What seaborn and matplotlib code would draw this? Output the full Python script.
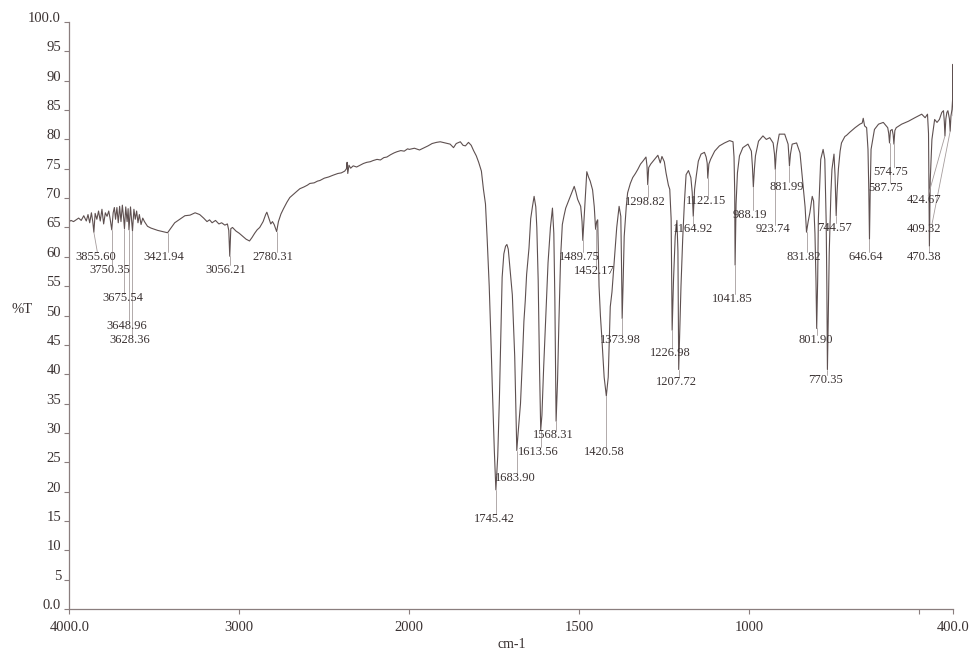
import numpy as np
import pandas as pd
import matplotlib
matplotlib.use('Agg')
import matplotlib.pyplot as plt
import seaborn as sns

# IR spectrum (cm-1, %T)
wavenumber = [
    4000, 3990, 3975, 3960, 3945, 3930, 3915, 3900, 3890, 3880, 3870, 3862,
    3855.60, 3848, 3838, 3828, 3818, 3808, 3798, 3788, 3778, 3768, 3760,
    3750.35, 3742, 3735, 3728, 3720, 3712, 3704, 3696, 3688, 3680, 3675.54,
    3668, 3660, 3654, 3648.96, 3640, 3634, 3628.36, 3620, 3612, 3604, 3596,
    3588, 3578, 3568, 3558, 3540, 3520, 3500, 3480, 3450, 3421.94, 3400,
    3380, 3350, 3320, 3290, 3260, 3233, 3210, 3190, 3175, 3160, 3140, 3120,
    3104, 3085, 3070, 3062, 3056.21, 3050, 3040, 3020, 3000, 2980, 2960,
    2940, 2925, 2910, 2895, 2880, 2860, 2845, 2838, 2825, 2815, 2805, 2795,
    2780.31, 2770, 2755, 2740, 2720, 2703, 2680, 2660, 2644, 2620, 2600,
    2585, 2560, 2540, 2526, 2500, 2475, 2449, 2420, 2400, 2380, 2370, 2366,
    2362, 2355, 2345, 2330, 2310, 2290, 2270, 2250, 2230, 2213, 2190, 2170,
    2150, 2132, 2110, 2090, 2073, 2050, 2030, 2010, 2000, 1985, 1970, 1959,
    1945, 1933, 1920, 1909, 1895, 1880, 1870, 1862, 1850, 1842, 1835, 1826,
    1818, 1811, 1803, 1796, 1788, 1782, 1776, 1771, 1765, 1760, 1756, 1750,
    1745.42, 1740, 1735, 1730, 1727, 1722, 1717, 1713, 1709, 1704, 1697,
    1690, 1686, 1683.90, 1680, 1673, 1667, 1663, 1659, 1655, 1648, 1643,
    1638, 1633, 1628, 1625, 1621, 1617, 1613.56, 1610, 1605, 1599, 1592,
    1585, 1579, 1575, 1572, 1568.31, 1564, 1560, 1555, 1550, 1545, 1540,
    1530, 1522, 1515, 1510, 1505, 1496, 1492, 1489.75, 1486, 1483, 1478,
    1473, 1468, 1461, 1456, 1452.17, 1449, 1446, 1442, 1438, 1434, 1427,
    1420.58, 1415, 1409, 1404, 1397, 1390, 1383, 1378, 1376, 1373.98, 1371,
    1368, 1362, 1358, 1350, 1343, 1335, 1328, 1320, 1313, 1304, 1301,
    1298.82, 1296, 1290, 1279, 1269, 1262, 1257, 1250, 1245, 1238, 1234,
    1230, 1226.98, 1223, 1218, 1213, 1210, 1207.72, 1204, 1201, 1196, 1191,
    1186, 1179, 1172, 1168, 1164.92, 1161, 1156, 1150, 1142, 1132, 1127,
    1124, 1122.15, 1119, 1114, 1102, 1088, 1073, 1058, 1048, 1045, 1043,
    1041.85, 1039, 1035, 1029, 1019, 1004, 994, 991, 988.19, 985, 982, 973,
    960, 950, 940, 930, 926, 923.74, 921, 918, 912, 896, 886, 884, 881.99,
    879, 874, 861, 851, 842, 836, 831.82, 827, 822, 815, 811, 807, 804,
    801.90, 799, 797, 790, 783, 778, 774, 772, 770.35, 768, 765, 760, 757,
    751, 748, 746, 744.57, 742, 738, 733, 729, 719, 714, 705, 689, 675, 668,
    665, 661, 655, 651, 648.5, 646.64, 644.5, 642, 632, 620, 606, 593, 590,
    587.75, 585, 580, 577, 574.75, 572, 568, 552, 532, 513, 493, 483, 476,
    473, 470.38, 468, 463, 455, 448, 441, 434, 429, 426.5, 424.67, 422, 419,
    416, 411.5, 409.32, 407, 404, 402, 401, 400.5, 400,
]
transmittance = [
    66.0, 66.2, 66.0, 66.3, 66.6, 66.2, 67.0, 66.1, 67.2, 65.8, 67.5, 66.0,
    64.2, 67.4, 66.4, 67.8, 66.1, 68.1, 65.6, 67.5, 66.9, 67.8, 66.5,
    64.6, 67.5, 68.4, 66.4, 68.4, 65.8, 68.6, 66.0, 68.8, 66.5, 64.8,
    68.5, 66.0, 68.2, 64.6, 68.5, 66.3, 64.4, 68.1, 66.4, 67.8, 65.8,
    67.2, 65.5, 66.6, 66.0, 65.2, 64.9, 64.7, 64.5, 64.3, 64.1, 65.0,
    65.8, 66.4, 67.0, 67.1, 67.5, 67.2, 66.6, 66.0, 66.3, 65.8, 66.2, 65.6,
    65.8, 65.4, 65.6, 64.5, 60.1, 64.8, 65.0, 64.4, 64.0, 63.5, 63.0,
    62.7, 63.3, 64.0, 64.6, 65.0, 66.0, 67.2, 67.6, 66.5, 65.6, 66.0, 65.5,
    64.3, 66.0, 67.3, 68.2, 69.3, 70.1, 70.7, 71.2, 71.6, 71.9, 72.2,
    72.5, 72.6, 72.9, 73.0, 73.4, 73.6, 73.9, 74.2, 74.3, 74.6, 75.0, 76.1,
    74.2, 75.6, 75.1, 75.5, 75.3, 75.6, 75.9, 76.1, 76.2, 76.4, 76.6, 76.5,
    76.9, 77.0, 77.4, 77.7, 77.9, 78.1, 78.0, 78.4, 78.3, 78.5, 78.2, 78.5,
    78.9, 79.3, 79.5, 79.6, 79.4, 79.2, 78.6, 79.3, 79.6, 79.0, 78.9, 79.5,
    79.0, 78.1, 77.2, 76.1, 74.6, 71.5, 69.0, 63.0, 55.0, 46.0, 38.0, 27.0,
    20.3, 26.0, 36.0, 49.0, 56.5, 60.5, 61.8, 62.1, 61.3, 58.0, 53.5,
    43.0, 33.0, 27.0, 30.0, 35.0, 43.0, 49.0, 52.5, 57.0, 61.5, 66.5,
    68.5, 70.3, 68.5, 65.0, 56.0, 41.0, 30.5, 33.0, 41.0, 49.5, 59.0,
    65.0, 68.3, 64.0, 53.0, 32.0, 39.0, 49.0, 60.0, 65.5, 67.0, 68.3,
    69.8, 71.0, 72.0, 71.0, 69.8, 68.6, 66.0, 62.8, 66.5, 69.3, 74.5,
    73.6, 72.9, 71.4, 68.5, 64.7, 66.0, 66.3, 55.0, 50.0, 46.4, 39.5,
    36.3, 39.5, 51.5, 54.0, 59.5, 65.0, 68.6, 66.9, 59.0, 49.5, 56.0,
    63.5, 68.5, 70.9, 72.5, 73.5, 74.2, 74.9, 75.8, 76.3, 77.0, 75.5,
    72.3, 75.2, 75.8, 76.6, 77.3, 76.0, 77.1, 76.2, 74.3, 72.2, 71.5,
    66.5, 47.5, 56.0, 63.5, 66.2, 61.0, 40.8, 49.0, 55.0, 63.0, 69.2,
    74.0, 74.7, 73.5, 71.0, 66.9, 71.5, 73.8, 76.3, 77.5, 77.8, 77.0,
    76.0, 73.4, 75.8, 76.6, 78.0, 78.9, 79.4, 79.8, 79.6, 77.0, 71.0,
    58.6, 69.0, 74.3, 77.2, 78.6, 79.2, 78.0, 75.5, 71.9, 75.0, 77.2, 79.7,
    80.6, 80.0, 80.3, 79.4, 77.5, 74.9, 77.5, 79.0, 80.9, 80.9, 79.2, 77.5, 75.5,
    77.5, 79.2, 79.4, 77.7, 72.1, 68.5, 64.2, 66.0, 67.5, 70.3, 69.5, 64.0, 56.0,
    47.8, 56.0, 66.4, 76.6, 78.3, 76.6, 66.0, 55.0, 40.8, 49.0, 60.7, 71.0, 74.9,
    77.5, 74.0, 70.0, 67.0, 71.0, 75.0, 78.0, 79.4, 80.5, 80.7, 81.2, 82.0, 82.6, 82.8,
    83.6, 82.3, 82.0, 78.3, 71.0, 63.0, 71.0, 78.3, 81.7, 82.6, 82.9, 82.0, 81.0,
    79.4, 81.5, 81.7, 80.8, 79.2, 81.5, 82.0, 82.6, 83.1, 83.7, 84.3, 83.7, 84.3,
    81.0, 61.8, 73.0, 80.0, 83.4, 82.9, 83.4, 84.6, 84.9, 83.0, 80.6, 83.5, 84.6,
    84.9, 83.5, 81.4, 84.0, 85.1, 87.0, 92.8, 87.0, 84.0,
]

# peak picks: label text, peak position/depth, where the label sits
peak_names = [
    '3855.60', '3750.35', '3675.54', '3648.96', '3628.36', '3421.94',
    '3056.21', '2780.31', '1745.42', '1683.90', '1613.56', '1568.31',
    '1489.75', '1452.17', '1420.58', '1373.98', '1298.82', '1226.98',
    '1207.72', '1164.92', '1122.15', '1041.85', '988.19', '923.74',
    '881.99', '831.82', '801.90', '770.35', '744.57', '646.64', '587.75',
    '574.75', '470.38', '424.67', '409.32',
]
peak_t = [
    64.2, 64.6, 64.8, 64.6, 64.4, 64.1, 60.1, 64.3, 20.3, 27.0, 30.5, 32.0,
    62.8, 64.7, 36.3, 49.5, 72.3, 47.5, 40.8, 66.9, 73.4, 58.6, 71.9, 74.9,
    75.5, 64.2, 47.8, 40.8, 67.0, 63.0, 79.4, 79.2, 61.8, 80.6, 81.4,
]
label_wn = [
    3843, 3761, 3686, 3662, 3643, 3443, 3078, 2800, 1751, 1689, 1620, 1576,
    1501, 1457, 1427, 1378, 1305, 1231, 1214, 1166, 1128, 1049, 998, 930,
    890, 841, 805, 775, 750, 657, 598, 583, 485, 485, 485,
]
label_t = [
    60.0, 57.8, 52.9, 48.2, 45.9, 60.0, 57.8, 60.0, 15.3, 22.3, 26.8, 29.6,
    60.0, 57.5, 26.8, 45.8, 69.4, 43.6, 38.7, 64.7, 69.5, 52.8, 67.2, 64.7,
    71.9, 60.0, 45.9, 39.0, 64.9, 60.0, 71.8, 74.5, 60.0, 69.6, 64.7,
]
# leaders that do not drop straight down
slanted = {'3855.60': 3835, '424.67': 474, '409.32': 463}

x_ticks = [4000, 3000, 2000, 1500, 1000, 500, 400]
x_ticklabels = ['4000.0', '3000', '2000', '1500', '1000', '', '400.0']
y_ticks = list(range(0, 101, 5))
y_ticklabels = ['0.0'] + [str(v) for v in y_ticks[1:-1]] + ['100.0']

LINE = '#5e5050'
LEAD = '#a59c9c'
AXC = '#8a7e7e'
TXT = '#3a3232'

sns.set_style('ticks')
plt.rcParams['font.family'] = ['Liberation Serif', 'DejaVu Serif']


def fwd(x):
    # below 2000 cm-1 the axis is stretched two times
    x = np.asarray(x, dtype=float)
    return np.where(x >= 2000, x, 2000 + 2 * (x - 2000))


def inv(u):
    u = np.asarray(u, dtype=float)
    return np.where(u >= 2000, u, 2000 + (u - 2000) / 2)


fig = plt.figure(figsize=(9.72, 6.5), dpi=100)
ax = fig.add_axes([0.0713, 0.0631, 0.9095, 0.903])
ax.set_xscale('function', functions=(fwd, inv))

df = pd.DataFrame({'wn': wavenumber, 'T': transmittance})
sns.lineplot(data=df, x='wn', y='T', ax=ax, estimator=None, sort=False,
             color=LINE, linewidth=0.8)

for name, pt, lx, ly in zip(peak_names, peak_t, label_wn, label_t):
    px = float(name)
    ex = slanted.get(name, px)
    ax.plot([px, ex], [pt, ly + 0.8], color=LEAD, linewidth=0.6)
    ax.text(lx, ly, name, ha='center', va='center', fontsize=9, color=TXT)

ax.set_xlim(4000, 400)
ax.set_ylim(0, 100)
ax.set_xticks(x_ticks)
ax.set_xticklabels(x_ticklabels)
ax.set_yticks(y_ticks)
ax.set_yticklabels(y_ticklabels)
for lab in ax.get_yticklabels():
    lab.set_verticalalignment('baseline')

ax.tick_params(axis='both', direction='out', length=3.6, width=0.8,
               color=AXC, labelsize=10.5, labelcolor=TXT)
ax.tick_params(axis='x', pad=5)
ax.tick_params(axis='y', pad=2.4)
sns.despine(ax=ax)
for side in ['left', 'bottom']:
    ax.spines[side].set_color(AXC)
    ax.spines[side].set_linewidth(0.9)

ax.set_xlabel('cm-1', fontsize=10, color=TXT, va='center')
ax.xaxis.set_label_coords(0.5, -0.061)
ax.set_ylabel('%T', fontsize=10.5, color=TXT, rotation=0, va='center')
ax.yaxis.set_label_coords(-0.053, 0.51)

fig.savefig('out.png', dpi=100)
